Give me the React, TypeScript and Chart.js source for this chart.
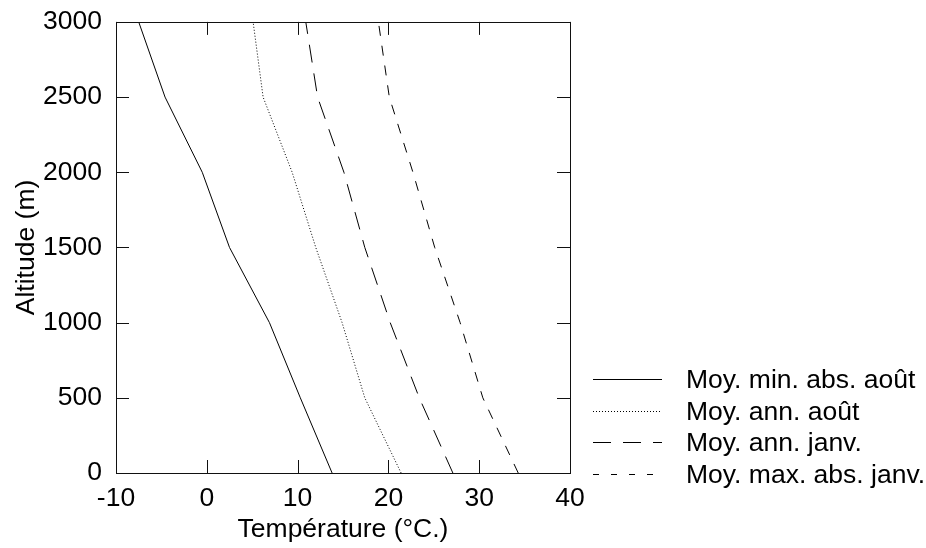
import React, { useEffect, useRef } from "react";
import { Chart, registerables } from "chart.js";

Chart.register(...registerables);

const altitudes = [0, 500, 1000, 1500, 2000, 2500, 3000];
const minAbsAout = [13.8, 10.3, 6.9, 2.5, -0.5, -4.6, -7.5];
const annAout = [21.4, 17.4, 14.9, 12.0, 9.4, 6.2, 5.1];
const annJanv = [27.1, 23.4, 20.2, 17.4, 15.1, 12.2, 10.9];
const maxAbsJanv = [34.3, 30.4, 27.9, 25.1, 22.7, 20.1, 18.9];

const seriesLabels = [
  "Moy. min. abs. août",
  "Moy. ann. août",
  "Moy. ann. janv.",
  "Moy. max. abs. janv.",
];
const xTitle = "Température (°C.)";
const yTitle = "Altitude (m)";

const FONT = "'Liberation Sans', Arial, Helvetica, sans-serif";
const FS = 26.5;

const plotDashes = [[], [1, 2], [18, 11], [10, 10]];
const legendDashes = [[], [1, 2], [18, 12], [6, 12]];

const framePlugin = {
  id: "frameTicks",
  afterDatasetsDraw(chart: any) {
    const { ctx, chartArea } = chart;
    const { left, right, top, bottom } = chartArea;
    const xs = chart.scales.x;
    const ys = chart.scales.y;
    const tl = 13;
    ctx.save();
    ctx.strokeStyle = "#111";
    ctx.lineWidth = 1;
    ctx.setLineDash([]);
    ctx.beginPath();
    xs.ticks.forEach((t: any) => {
      const px = Math.round(xs.getPixelForValue(t.value)) + 0.5;
      ctx.moveTo(px, bottom);
      ctx.lineTo(px, bottom - tl);
      ctx.moveTo(px, top);
      ctx.lineTo(px, top + tl);
    });
    ys.ticks.forEach((t: any) => {
      const py = Math.round(ys.getPixelForValue(t.value)) + 0.5;
      ctx.moveTo(left, py);
      ctx.lineTo(left + tl, py);
      ctx.moveTo(right, py);
      ctx.lineTo(right - tl, py);
    });
    ctx.stroke();
    ctx.strokeRect(Math.round(left) + 0.5, Math.round(top) + 0.5, Math.round(right - left), Math.round(bottom - top));
    ctx.restore();
  },
  afterDraw(chart: any) {
    const { ctx } = chart;
    const x0 = 593;
    const x1 = 662;
    const tx = 686;
    const y0 = 379;
    const dy = 31.5;
    ctx.save();
    ctx.font = `${FS}px ${FONT}`;
    ctx.textBaseline = "middle";
    ctx.textAlign = "left";
    ctx.fillStyle = "#000";
    chart.data.datasets.forEach((ds: any, i: number) => {
      const y = Math.round(y0 + i * dy) + 0.5;
      ctx.strokeStyle = "#000";
      ctx.lineWidth = 1;
      ctx.setLineDash(legendDashes[i]);
      ctx.beginPath();
      ctx.moveTo(x0, y);
      ctx.lineTo(x1, y);
      ctx.stroke();
      ctx.setLineDash([]);
      ctx.fillText(ds.label, tx, y + 1);
    });
    ctx.restore();
  },
};

export default function App() {
  const ref = useRef<HTMLCanvasElement | null>(null);

  useEffect(() => {
    if (!ref.current) return;
    const seriesValues = [minAbsAout, annAout, annJanv, maxAbsJanv];
    const chart = new Chart(ref.current, {
      type: "scatter",
      data: {
        datasets: seriesValues.map((vals, i) => ({
          label: seriesLabels[i],
          data: vals.map((t, k) => ({ x: t, y: altitudes[k] })),
          showLine: true,
          borderColor: "#000",
          backgroundColor: "#000",
          borderWidth: 1,
          borderDash: plotDashes[i],
          pointRadius: 0,
          pointHoverRadius: 0,
          fill: false,
          tension: 0,
        })),
      },
      options: {
        responsive: false,
        animation: false,
        events: [],
        layout: { padding: { left: 0, top: 20, right: 356, bottom: 0 } },
        plugins: {
          legend: { display: false },
          tooltip: { enabled: false },
        },
        scales: {
          x: {
            type: "linear",
            min: -10,
            max: 40,
            grid: { display: false },
            border: { display: false },
            ticks: {
              stepSize: 10,
              autoSkip: false,
              maxRotation: 0,
              padding: 2,
              color: "#000",
              font: { family: FONT, size: FS },
              callback: (v: any) => String(v),
            },
            title: {
              display: true,
              text: xTitle,
              color: "#000",
              font: { family: FONT, size: FS },
              padding: { top: 0, bottom: 2 },
            },
            afterFit: (s: any) => {
              s.height = 75;
            },
          },
          y: {
            type: "linear",
            min: 0,
            max: 3000,
            grid: { display: false },
            border: { display: false },
            ticks: {
              stepSize: 500,
              autoSkip: false,
              padding: 6,
              color: "#000",
              font: { family: FONT, size: FS },
              callback: (v: any) => String(v),
            },
            title: {
              display: true,
              text: yTitle,
              color: "#000",
              font: { family: FONT, size: FS },
              padding: { top: 11, bottom: 0 },
            },
            afterFit: (s: any) => {
              s.width = 116;
            },
          },
        },
      },
      plugins: [framePlugin],
    });
    return () => chart.destroy();
  }, []);

  return (
    <div style={{ position: "fixed", left: 0, top: 0, width: 926, height: 548, background: "#fff" }}>
      <canvas ref={ref} width={926} height={548} style={{ display: "block" }} />
    </div>
  );
}
